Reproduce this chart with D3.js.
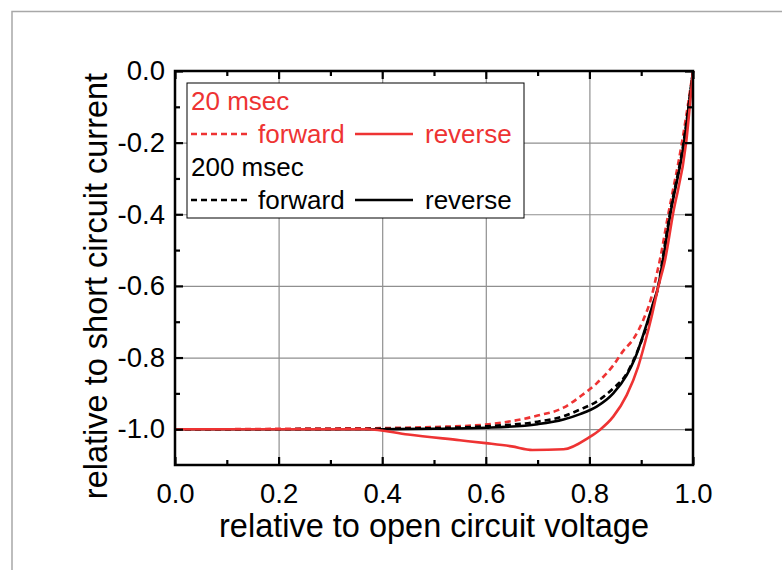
<!DOCTYPE html>
<html>
<head>
<meta charset="utf-8">
<script src="https://cdn.jsdelivr.net/npm/d3@7"></script>
<style>
	body { margin: 0; background: #fff; }
	svg { display: block; font-family: "Liberation Sans", Arial, sans-serif; }
</style>
</head>
<body>
<svg class="ivGraph"></svg>
<script>
// x = V/Voc, y = I/Isc
const forward20 = [[0,-1.0],[0.1,-1.0],[0.2,-0.999],[0.3,-0.998],[0.4,-0.997],[0.5,-0.994],[0.6,-0.987],[0.7,-0.962],[0.75,-0.94],[0.782,-0.909],[0.814,-0.872],[0.846,-0.822],[0.865,-0.782],[0.885,-0.748],[0.904,-0.695],[0.92,-0.63],[0.929,-0.574],[0.936,-0.528],[0.952,-0.402],[0.979,-0.197],[1.0,0]];
const reverse20 = [[0,-1.0],[0.2,-1.0],[0.37,-1.0],[0.45,-1.015],[0.55,-1.031],[0.6,-1.039],[0.65,-1.048],[0.69,-1.058],[0.75,-1.056],[0.8,-1.022],[0.82,-1.002],[0.846,-0.965],[0.872,-0.905],[0.894,-0.826],[0.907,-0.76],[0.92,-0.686],[0.933,-0.602],[0.946,-0.528],[0.961,-0.402],[0.987,-0.197],[1.0,0]];
const forward200 = [[0,-1.0],[0.2,-1.0],[0.4,-0.999],[0.5,-0.997],[0.6,-0.992],[0.7,-0.979],[0.75,-0.964],[0.782,-0.945],[0.814,-0.923],[0.846,-0.886],[0.872,-0.845],[0.885,-0.808],[0.907,-0.728],[0.923,-0.652],[0.933,-0.602],[0.941,-0.528],[0.955,-0.402],[0.982,-0.197],[1.0,0]];
const reverse200 = [[0,-1.0],[0.2,-1.0],[0.4,-1.0],[0.5,-0.999],[0.6,-0.996],[0.7,-0.986],[0.75,-0.973],[0.782,-0.958],[0.814,-0.937],[0.846,-0.9],[0.872,-0.849],[0.888,-0.802],[0.907,-0.723],[0.923,-0.649],[0.933,-0.6],[0.942,-0.528],[0.956,-0.402],[0.983,-0.197],[1.0,0]];

const xTicks = [0, 0.2, 0.4, 0.6, 0.8, 1.0];
const yTicks = [0, -0.2, -0.4, -0.6, -0.8, -1.0];
const xMinor = [0.1, 0.3, 0.5, 0.7, 0.9];
const yMinor = [-0.1, -0.3, -0.5, -0.7, -0.9];

const legendRows = [
	{ label: '20 msec', color: '#ee3333', fwd: 'forward', rev: 'reverse' },
	{ label: '200 msec', color: '#000000', fwd: 'forward', rev: 'reverse' }
];

const svg = d3.select('.ivGraph')
	.attr('width', 782)
	.attr('height', 570);

let margin = { top: 71, left: 175 },
	innerWidth = 518,
	innerHeight = 394,
	red = '#ee3333',
	dash = '6,4',
	fmt = d => d.toFixed(1);

// outer frame of the original figure (cut at right/bottom)
svg.append('path')
	.attr('d', 'M12,570 V11.5 H782')
	.attr('fill', 'none')
	.attr('stroke', '#a8a8a8')
	.attr('stroke-width', 1.5);

const xScale = d3.scaleLinear()
	.domain([0, 1])
	.range([0, innerWidth]);

const yScale = d3.scaleLinear()
	.domain([-1.1, 0])
	.range([innerHeight, 0]);

const lineGenerator = d3.line()
	.x(d => xScale(d[0]))
	.y(d => yScale(d[1]))
	.curve(d3.curveMonotoneX);

const g = svg.append('g')
	.attr('transform', `translate(${margin.left}, ${margin.top})`);

// grid
const xGrid = g.append('g').call(d3.axisBottom(xScale)
		.tickValues(xTicks.slice(1, -1))
		.tickSize(innerHeight)
		.tickFormat(''));
const yGrid = g.append('g').call(d3.axisLeft(yScale)
		.tickValues(yTicks.slice(1))
		.tickSize(-innerWidth)
		.tickFormat(''));
[xGrid, yGrid].forEach(a => {
	a.select('.domain').remove();
	a.selectAll('text').remove();
	a.selectAll('line').attr('stroke', '#8f8f8f').attr('stroke-width', 1.2);
});

// legend box
const legend = g.append('g').attr('transform', 'translate(12, 12)');
legend.append('rect')
	.attr('width', 337)
	.attr('height', 135)
	.attr('fill', '#fff')
	.attr('stroke', '#000')
	.attr('stroke-width', 1);

legendRows.forEach((r, i) => {
	let y0 = 27 + i * 66;
	legend.append('text')
		.attr('x', 4).attr('y', y0)
		.attr('fill', r.color)
		.attr('font-size', 26)
		.text(r.label);
	let y1 = y0 + 24;
	legend.append('line')
		.attr('x1', 4).attr('x2', 60).attr('y1', y1).attr('y2', y1)
		.attr('stroke', r.color).attr('stroke-width', 2.5)
		.attr('stroke-dasharray', dash);
	legend.append('text')
		.attr('x', 71).attr('y', y1 + 9)
		.attr('fill', r.color)
		.attr('font-size', 26)
		.text(r.fwd);
	legend.append('line')
		.attr('x1', 168).attr('x2', 226).attr('y1', y1).attr('y2', y1)
		.attr('stroke', r.color).attr('stroke-width', 2.5);
	legend.append('text')
		.attr('x', 238).attr('y', y1 + 9)
		.attr('fill', r.color)
		.attr('font-size', 26)
		.text(r.rev);
});

// curves
const series = [
	{ data: forward20, color: red, dashed: true },
	{ data: forward200, color: '#000', dashed: true },
	{ data: reverse200, color: '#000', dashed: false },
	{ data: reverse20, color: red, dashed: false }
];
series.forEach(s => {
	g.append('path')
		.attr('class', 'line-path')
		.attr('fill', 'none')
		.attr('stroke', s.color)
		.attr('stroke-width', 2.6)
		.attr('stroke-dasharray', s.dashed ? dash : null)
		.attr('d', lineGenerator(s.data));
});

// inward ticks on all four sides
const tickAxes = [
	[d3.axisBottom(xScale), xTicks, xMinor, `translate(0, ${innerHeight})`],
	[d3.axisTop(xScale), xTicks, xMinor, 'translate(0, 0)'],
	[d3.axisLeft(yScale), yTicks, yMinor, 'translate(0, 0)'],
	[d3.axisRight(yScale), yTicks, yMinor, `translate(${innerWidth}, 0)`]
];
tickAxes.forEach(([axis, major, minor, tr]) => {
	const a1 = g.append('g').attr('transform', tr)
		.call(axis.tickValues(major).tickSize(-8).tickFormat(''));
	const a2 = g.append('g').attr('transform', tr)
		.call(axis.tickValues(minor).tickSize(-5).tickFormat(''));
	[a1, a2].forEach(a => {
		a.select('.domain').remove();
		a.selectAll('text').remove();
		a.selectAll('line').attr('stroke', '#000').attr('stroke-width', 2.2);
	});
});

g.append('rect')
	.attr('width', innerWidth)
	.attr('height', innerHeight)
	.attr('fill', 'none')
	.attr('stroke', '#000')
	.attr('stroke-width', 2.5);

// labels
const xAxisG = g.append('g')
	.attr('transform', `translate(0, ${innerHeight})`)
	.call(d3.axisBottom(xScale).tickValues(xTicks).tickSize(0).tickPadding(18).tickFormat(fmt));
const yAxisG = g.append('g')
	.call(d3.axisLeft(yScale).tickValues(yTicks).tickSize(0).tickPadding(10).tickFormat(fmt));
[xAxisG, yAxisG].forEach(a => {
	a.select('.domain').remove();
	a.selectAll('line').remove();
	a.selectAll('text')
		.attr('font-family', '"Liberation Sans", Arial, sans-serif')
		.attr('font-size', 27.5)
		.attr('fill', '#000');
});

g.append('text')
	.attr('x', innerWidth / 2)
	.attr('y', innerHeight + 72)
	.attr('text-anchor', 'middle')
	.attr('font-size', 32.5)
	.text('relative to open circuit voltage');

g.append('text')
	.attr('transform', `translate(-68, ${innerHeight / 2 + 18}) rotate(-90)`)
	.attr('text-anchor', 'middle')
	.attr('font-size', 32.5)
	.text('relative to short circuit current');
</script>
</body>
</html>
